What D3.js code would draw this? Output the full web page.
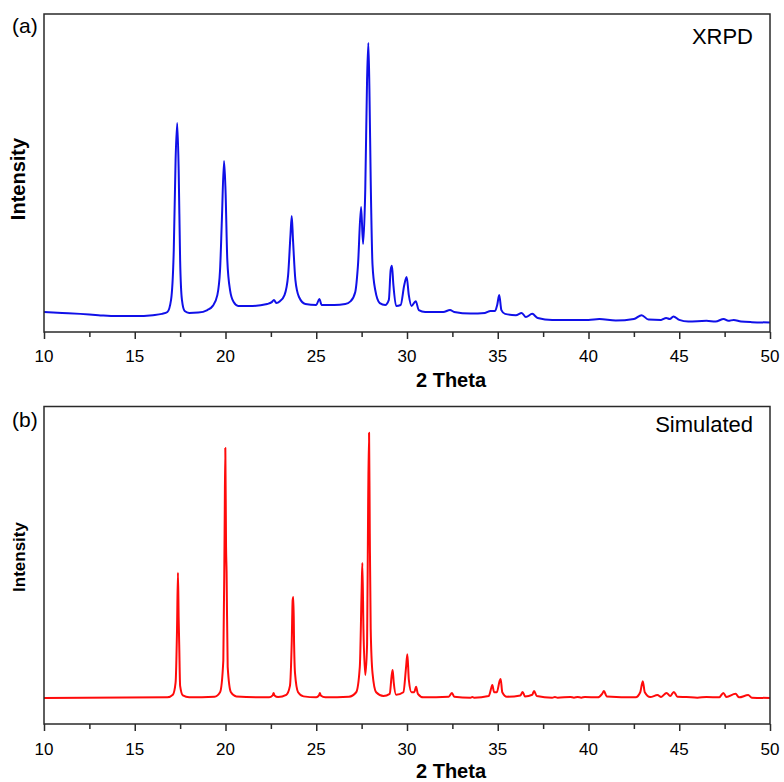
<!DOCTYPE html>
<html>
<head>
<meta charset="utf-8">
<title>XRPD vs Simulated</title>
<style>
  body { margin: 0; background: #fff; }
  svg { display: block; }
  text { font-family: Arial, "Liberation Sans", sans-serif; fill: #000; }
</style>
</head>
<script src="https://d3js.org/d3.v7.min.js"></script>
<body>
<div id="chart"></div>
</body>
<script>

// measured XRPD pattern (2theta, counts a.u.)
var xrpdTheta = [
  10.0, 11.0, 12.0, 13.0, 14.0, 15.0, 16.0, 16.5, 16.8, 17.0,
  17.15, 17.25, 17.34, 17.42, 17.5, 17.6, 17.75, 18.0, 18.5, 19.0,
  19.3, 19.55, 19.7, 19.8, 19.92, 20.0, 20.1, 20.25, 20.45, 20.7,
  21.5, 22.3, 22.55, 22.67, 22.8, 23.0, 23.25, 23.45, 23.58, 23.65,
  23.72, 23.85, 24.05, 24.4, 25.0, 25.17, 25.3, 26.0, 26.6, 26.9,
  27.15, 27.3, 27.47, 27.58, 27.7, 27.8, 27.87, 27.93, 28.0, 28.1,
  28.25, 28.5, 28.8, 29.0, 29.1, 29.17, 29.25, 29.4, 29.65, 29.85,
  29.98, 30.1, 30.25, 30.48, 30.65, 31.0, 32.0, 32.37, 32.6, 33.5,
  34.3, 34.6, 34.85, 34.97, 35.08, 35.2, 35.4, 36.0, 36.32, 36.55,
  36.9, 37.2, 38.0, 39.0, 40.0, 40.6, 41.5, 42.5, 42.93, 43.3,
  44.0, 44.28, 44.48, 44.68, 45.0, 45.5, 46.5, 47.0, 47.45, 47.7,
  48.0, 48.4, 49.0, 50.0
];
var xrpdCounts = [
  63, 60, 57, 53, 50, 50, 53, 57, 63, 101,
  258, 541, 657, 509, 226, 101, 66, 60, 61, 69,
  82, 116, 195, 352, 538, 447, 226, 132, 94, 82,
  82, 88, 94, 101, 91, 97, 116, 179, 305, 365,
  289, 164, 110, 88, 85, 104, 85, 85, 88, 97,
  126, 211, 393, 277, 447, 793, 909, 761, 478, 211,
  132, 91, 85, 101, 195, 208, 148, 82, 85, 148,
  173, 116, 82, 97, 69, 63, 63, 69, 63, 58,
  60, 66, 66, 85, 116, 69, 57, 53, 60, 47,
  57, 44, 38, 38, 38, 41, 36, 41, 53, 39,
  38, 44, 41, 49, 38, 33, 35, 33, 41, 35,
  38, 33, 31, 30
];

// simulated pattern (2theta, counts a.u.)
var simTheta = [
  10.0, 16.8, 17.1, 17.25, 17.33, 17.38, 17.42, 17.45, 17.5, 17.65,
  18.0, 19.4, 19.7, 19.88, 19.95, 19.99, 20.03, 20.06, 20.12, 20.3,
  20.6, 22.4, 22.6, 22.65, 22.7, 22.9, 23.35, 23.55, 23.65, 23.7,
  23.74, 23.78, 23.83, 24.0, 24.3, 25.0, 25.15, 25.2, 25.25, 25.5,
  26.8, 27.2, 27.4, 27.5, 27.54, 27.6, 27.7, 27.8, 27.86, 27.91,
  27.95, 28.0, 28.1, 28.3, 28.7, 29.05, 29.15, 29.21, 29.27, 29.4,
  29.8, 29.95, 30.02, 30.1, 30.25, 30.4, 30.5, 30.6, 30.9, 32.3,
  32.48, 32.6, 33.5, 33.6, 33.7, 34.5, 34.65, 34.7, 34.8, 34.95,
  35.1, 35.16, 35.25, 35.5, 36.25, 36.37, 36.5, 36.9, 37.0, 37.15,
  38.0, 38.15, 38.3, 39.0, 39.2, 39.4, 39.6, 39.8, 40.5, 40.75,
  40.85, 41.0, 42.6, 42.85, 42.99, 43.1, 43.4, 43.8, 44.0, 44.3,
  44.5, 44.7, 44.9, 45.4, 46.0, 46.5, 47.2, 47.43, 47.6, 48.1,
  48.3, 48.8, 49.0, 50.0
];
var simCounts = [
  82, 84, 92, 130, 300, 476, 330, 250, 120, 90,
  84, 86, 100, 200, 600, 869, 560, 480, 180, 100,
  87, 84, 90, 98, 90, 85, 92, 120, 260, 390,
  400, 250, 160, 100, 87, 84, 90, 98, 90, 84,
  86, 100, 180, 420, 507, 300, 154, 250, 700, 917,
  600, 300, 160, 100, 88, 95, 150, 170, 130, 92,
  100, 180, 220, 140, 100, 100, 117, 95, 84, 86,
  98, 86, 83, 85, 83, 88, 115, 123, 100, 100,
  135, 142, 100, 86, 90, 101, 87, 92, 104, 88,
  83, 85, 83, 85, 83, 85, 83, 85, 84, 95,
  104, 87, 84, 100, 135, 100, 85, 91, 85, 98,
  88, 101, 86, 85, 83, 85, 84, 98, 85, 95,
  84, 91, 83, 82
];

var majorTicks = [10, 15, 20, 25, 30, 35, 40, 45, 50];
var minorTicks = [12.5, 17.5, 22.5, 27.5, 32.5, 37.5, 42.5, 47.5];

var panels = [
  { tag: "(a)", name: "XRPD", theta: xrpdTheta, counts: xrpdCounts, color: "#1010e8",
    top: 14, bottom: 332, tickBase: 362, titleBase: 387, yLabelY: 179, yLabelSize: 20,
    tagBase: 32.5, nameBase: 43.5 },
  { tag: "(b)", name: "Simulated", theta: simTheta, counts: simCounts, color: "#ff0a0a",
    top: 406.5, bottom: 724, tickBase: 755, titleBase: 778, yLabelY: 557, yLabelSize: 17,
    tagBase: 426.5, nameBase: 431.5 }
];

var W = 784, H = 782;
var left = 44, right = 770;

var svg = d3.select("#chart").append("svg")
  .attr("width", W)
  .attr("height", H);

var x = d3.scaleLinear().domain([10, 50]).range([left, right]);

panels.forEach(function(p) {
  var y = d3.scaleLinear().domain([0, 1000]).range([p.bottom, p.top]);
  var g = svg.append("g");

  var pts = p.theta.map(function(t, i) { return [t, p.counts[i]]; });

  var line = d3.line()
    .x(function(d) { return x(d[0]); })
    .y(function(d) { return y(d[1]); })
    .curve(d3.curveMonotoneX);

  g.append("path")
    .datum(pts)
    .attr("d", line)
    .attr("fill", "none")
    .attr("stroke", p.color)
    .attr("stroke-width", 2)
    .attr("stroke-linejoin", "round");

  // frame
  g.append("rect")
    .attr("x", left)
    .attr("y", p.top)
    .attr("width", right - left)
    .attr("height", p.bottom - p.top)
    .attr("fill", "none")
    .attr("stroke", "#2a2a2a")
    .attr("stroke-width", 1.5);

  // ticks (major with labels, minor without)
  var axMajor = d3.axisBottom(x).tickValues(majorTicks).tickSize(7).tickFormat("");
  var axMinor = d3.axisBottom(x).tickValues(minorTicks).tickSize(5).tickFormat("");
  [axMajor, axMinor].forEach(function(ax) {
    var a = g.append("g")
      .attr("transform", "translate(0," + p.bottom + ")")
      .call(ax);
    a.select(".domain").remove();
    a.selectAll("line").attr("stroke", "#2a2a2a").attr("stroke-width", 1.5);
  });

  g.selectAll(".tlab")
    .data(majorTicks)
    .enter().append("text")
    .attr("x", function(d) { return x(d); })
    .attr("y", p.tickBase)
    .attr("text-anchor", "middle")
    .style("font-size", "17px")
    .text(function(d) { return d; });

  g.append("text")
    .attr("x", (left + right) / 2 + 44)
    .attr("y", p.titleBase)
    .attr("text-anchor", "middle")
    .style("font-size", "20px")
    .style("font-weight", "bold")
    .text("2 Theta");

  g.append("text")
    .attr("transform", "translate(25," + p.yLabelY + ") rotate(-90)")
    .attr("text-anchor", "middle")
    .style("font-size", p.yLabelSize + "px")
    .style("font-weight", "bold")
    .text("Intensity");

  g.append("text")
    .attr("x", 12)
    .attr("y", p.tagBase)
    .style("font-size", "21px")
    .text(p.tag);

  g.append("text")
    .attr("x", 753)
    .attr("y", p.nameBase)
    .attr("text-anchor", "end")
    .style("font-size", "22px")
    .text(p.name);
});

</script>
</html>
